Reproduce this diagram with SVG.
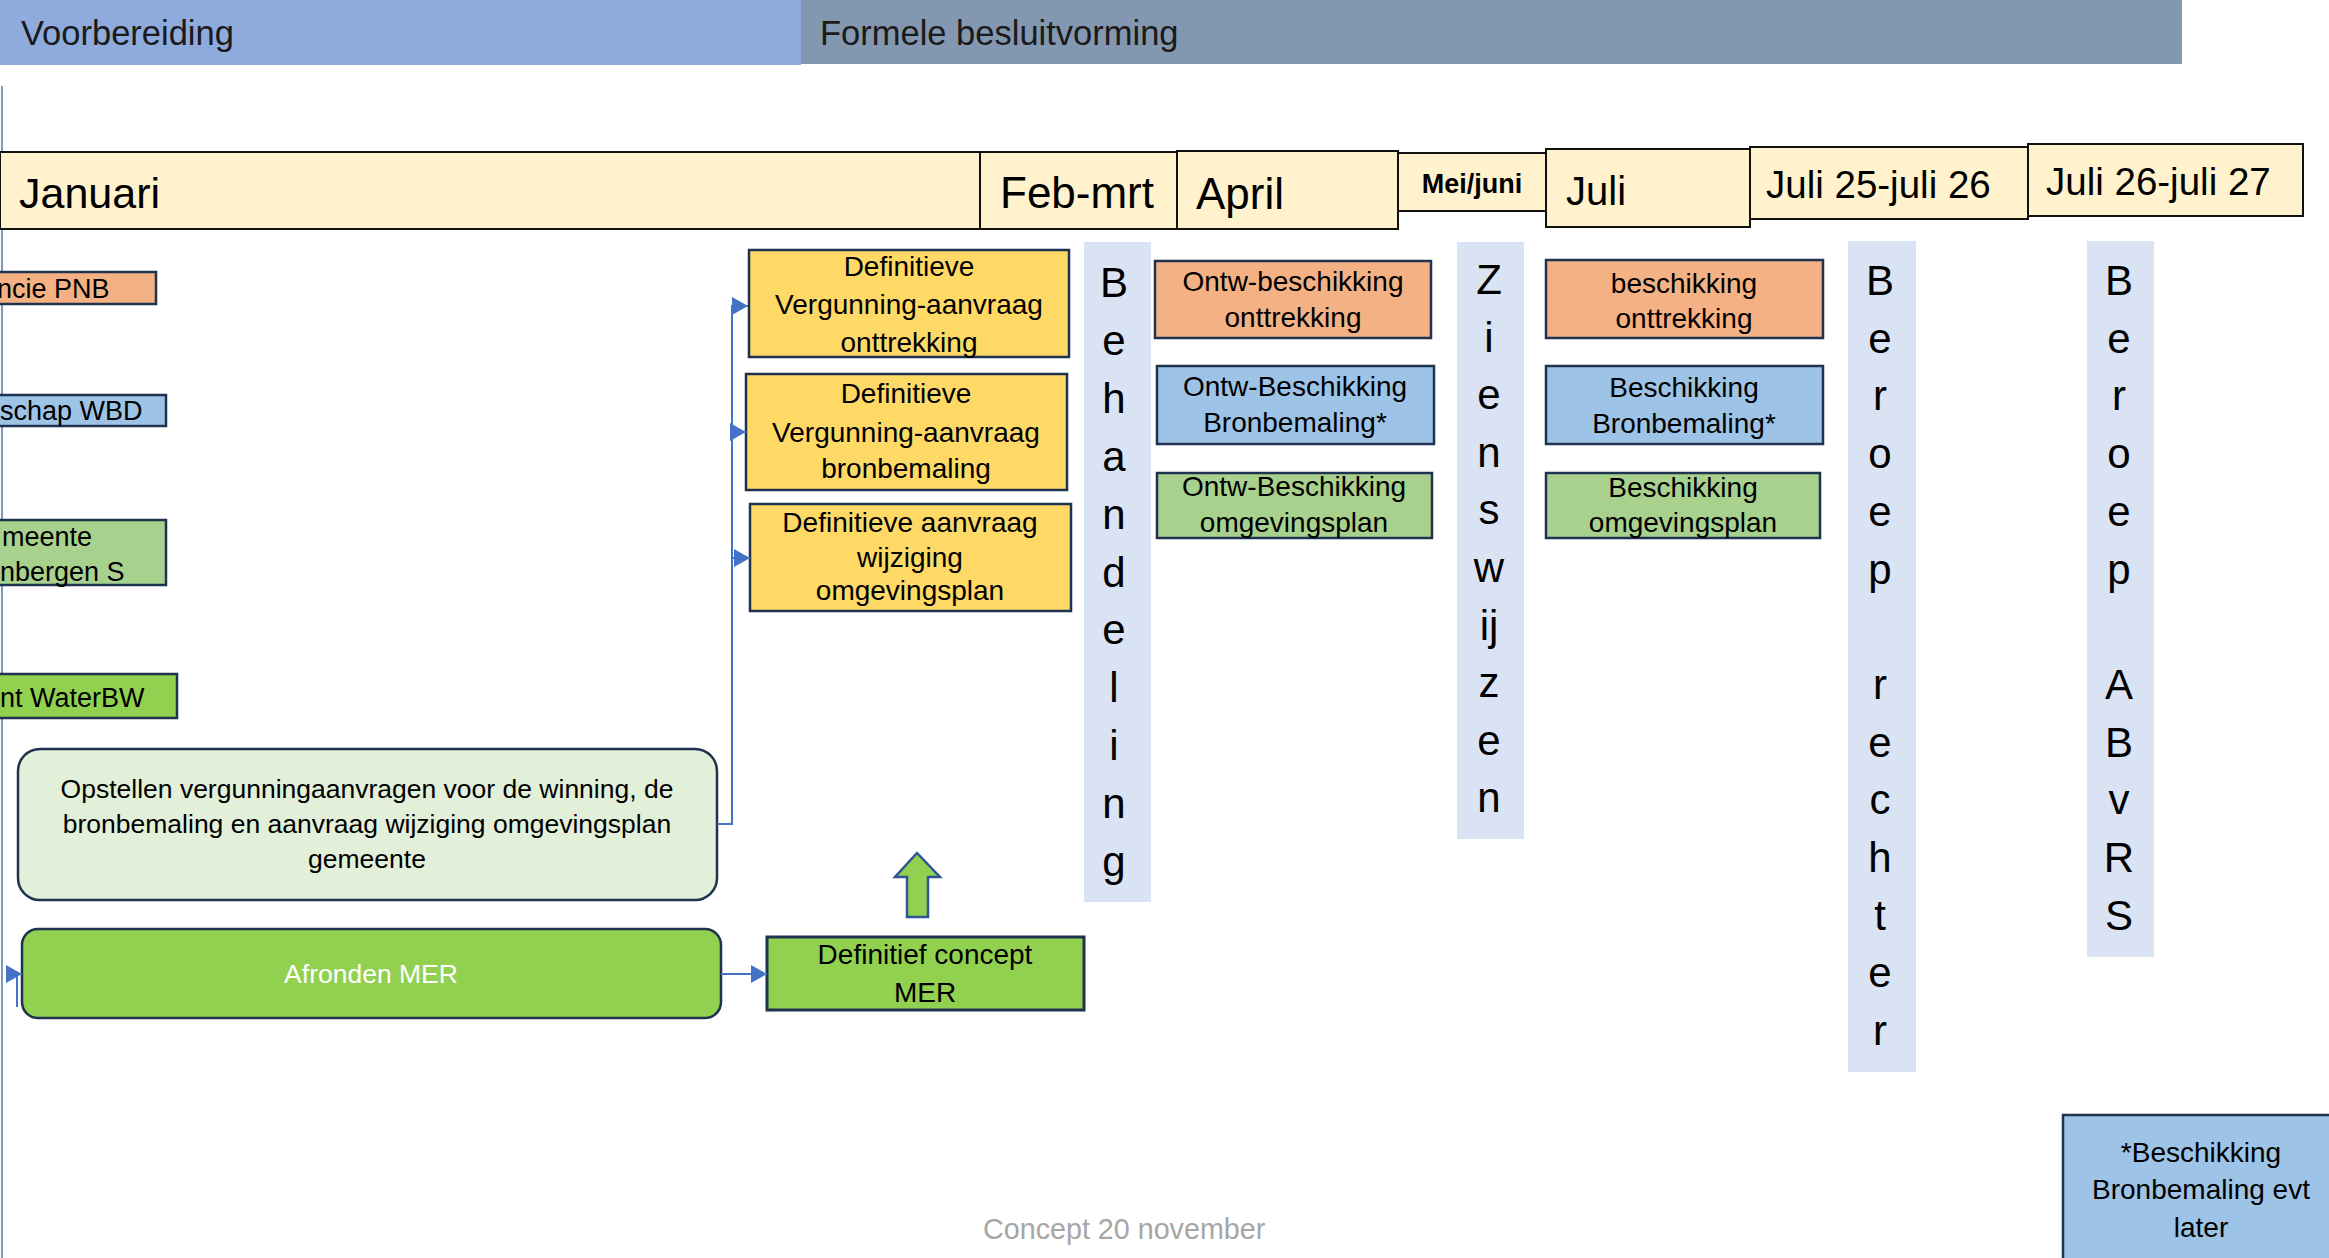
<svg xmlns="http://www.w3.org/2000/svg" width="2329" height="1258" viewBox="0 0 2329 1258">
<defs>
<style>
text{font-family:"Liberation Sans",Arial,sans-serif;fill:#000}
.box{stroke:#1f3350;stroke-width:2.5}
.mon{fill:#fff2cc;stroke:#111;stroke-width:2}
.col{fill:#dae3f3}
.orange{fill:#f4b183}
.blue{fill:#9dc3e6}
.lgreen{fill:#a9d18e}
.green{fill:#92d050}
.yellow{fill:#ffd966}
.t28{font-size:28px}
.t27{font-size:27px}
.t26{font-size:26.5px}
.mid{text-anchor:middle}
.vert{font-size:42px;text-anchor:middle}
.conn{fill:none;stroke:#4472c4;stroke-width:2}
</style>
<marker id="arr" markerUnits="userSpaceOnUse" markerWidth="16" markerHeight="18" refX="16" refY="9" orient="auto">
<path d="M0,0 L16,9 L0,18 z" fill="#4472c4"/>
</marker>
</defs>
<rect width="2329" height="1258" fill="#ffffff"/>

<g id="phase-voorbereiding">
<rect x="0" y="0" width="801" height="65" fill="#8faadc"/>
<text x="21" y="45" style="font-size:34.5px;fill:#1a1a1a">Voorbereiding</text>
</g>
<g id="phase-formeel">
<rect x="801" y="0" width="1381" height="64" fill="#8497b0"/>
<text x="820" y="45" style="font-size:34.5px;fill:#1a1a1a">Formele besluitvorming</text>
</g>

<line x1="2" y1="86" x2="2" y2="1258" stroke="#7f96c0" stroke-width="2"/>

<g id="month-januari"><rect class="mon" x="0" y="152" width="980" height="77"/><text x="19" y="208" style="font-size:43px">Januari</text></g>
<g id="month-febmrt"><rect class="mon" x="980" y="152" width="197" height="77"/><text x="1000" y="208" style="font-size:44px">Feb-mrt</text></g>
<g id="month-april"><rect class="mon" x="1177" y="151" width="221" height="78"/><text x="1196" y="209" style="font-size:44px">April</text></g>
<g id="month-meijuni"><rect class="mon" x="1398" y="153" width="148" height="58"/><text x="1472" y="193" class="mid" style="font-size:27px;font-weight:bold">Mei/juni</text></g>
<g id="month-juli"><rect class="mon" x="1546" y="149" width="204" height="78"/><text x="1566" y="205" style="font-size:40px">Juli</text></g>
<g id="month-juli2526"><rect class="mon" x="1750" y="147" width="278" height="72"/><text x="1766" y="198" style="font-size:38.5px">Juli 25-juli 26</text></g>
<g id="month-juli2627"><rect class="mon" x="2028" y="144" width="275" height="72"/><text x="2046" y="195" style="font-size:38.5px">Juli 26-juli 27</text></g>

<g id="lane-pnb"><rect class="box orange" x="-10" y="272" width="166" height="32"/><text x="-3" y="298" class="t27">ncie PNB</text></g>
<g id="lane-wbd"><rect class="box blue" x="-10" y="395" width="176" height="31"/><text x="0" y="420" class="t27">schap WBD</text></g>
<g id="lane-gemeente"><rect class="box lgreen" x="-10" y="520" width="176" height="65"/><text x="2" y="546" class="t27">meente</text><text x="0" y="581" class="t27">nbergen S</text></g>
<g id="lane-waterbw"><rect class="box green" x="-10" y="674" width="187" height="44"/><text x="0" y="707" class="t27">nt WaterBW</text></g>

<g id="yellow-onttrekking"><rect class="box yellow" x="749" y="250" width="320" height="107"/>
<text class="t28 mid" x="909" y="276">Definitieve</text><text class="t28 mid" x="909" y="314">Vergunning-aanvraag</text><text class="t28 mid" x="909" y="352">onttrekking</text></g>
<g id="yellow-bronbemaling"><rect class="box yellow" x="746" y="374" width="321" height="116"/>
<text class="t28 mid" x="906" y="403">Definitieve</text><text class="t28 mid" x="906" y="442">Vergunning-aanvraag</text><text class="t28 mid" x="906" y="478">bronbemaling</text></g>
<g id="yellow-omgevingsplan"><rect class="box yellow" x="750" y="504" width="321" height="107"/>
<text class="t28 mid" x="910" y="532">Definitieve aanvraag</text><text class="t28 mid" x="910" y="567">wijziging</text><text class="t28 mid" x="910" y="600">omgevingsplan</text></g>

<g id="opstellen"><rect class="box" fill="#e2efd9" x="18" y="749" width="699" height="151" rx="22"/>
<text class="t26 mid" x="367" y="798">Opstellen vergunningaanvragen voor de winning, de</text>
<text class="t26 mid" x="367" y="833">bronbemaling en aanvraag wijziging omgevingsplan</text>
<text class="t26 mid" x="367" y="868">gemeente</text></g>

<g id="afronden-mer"><rect class="box green" x="22" y="929" width="699" height="89" rx="16"/>
<text class="t26 mid" x="371" y="983" style="fill:#ffffff">Afronden MER</text></g>

<g id="definitief-concept-mer"><rect class="box green" x="767" y="937" width="317" height="73" style="stroke-width:3"/>
<text class="t28 mid" x="925" y="964">Definitief concept</text><text class="t28 mid" x="925" y="1002">MER</text></g>

<g id="up-arrow"><polygon points="917,853 940,877 928,877 928,917 907,917 907,877 895,877" fill="#92d050" stroke="#2f5597" stroke-width="2.5"/></g>

<g id="col-behandeling"><rect class="col" x="1084" y="242" width="67" height="660"/>
<text class="vert" x="1114" y="297"><tspan x="1114" dy="0">B</tspan><tspan x="1114" dy="57.9">e</tspan><tspan x="1114" dy="57.9">h</tspan><tspan x="1114" dy="57.9">a</tspan><tspan x="1114" dy="57.9">n</tspan><tspan x="1114" dy="57.9">d</tspan><tspan x="1114" dy="57.9">e</tspan><tspan x="1114" dy="57.9">l</tspan><tspan x="1114" dy="57.9">i</tspan><tspan x="1114" dy="57.9">n</tspan><tspan x="1114" dy="57.9">g</tspan></text></g>

<g id="april-onttrekking"><rect class="box orange" x="1155" y="261" width="276" height="77"/>
<text class="t28 mid" x="1293" y="291">Ontw-beschikking</text><text class="t28 mid" x="1293" y="327">onttrekking</text></g>
<g id="april-bronbemaling"><rect class="box blue" x="1157" y="366" width="277" height="78"/>
<text class="t28 mid" x="1295" y="396">Ontw-Beschikking</text><text class="t28 mid" x="1295" y="432">Bronbemaling*</text></g>
<g id="april-omgevingsplan"><rect class="box lgreen" x="1157" y="473" width="275" height="65"/>
<text class="t28 mid" x="1294" y="496">Ontw-Beschikking</text><text class="t28 mid" x="1294" y="532">omgevingsplan</text></g>

<g id="col-zienswijzen"><rect class="col" x="1457" y="242" width="67" height="597"/>
<text class="vert" x="1489" y="294"><tspan x="1489" dy="0">Z</tspan><tspan x="1489" dy="57.6">i</tspan><tspan x="1489" dy="57.6">e</tspan><tspan x="1489" dy="57.6">n</tspan><tspan x="1489" dy="57.6">s</tspan><tspan x="1489" dy="57.6">w</tspan><tspan x="1489" dy="57.6">ij</tspan><tspan x="1489" dy="57.6">z</tspan><tspan x="1489" dy="57.6">e</tspan><tspan x="1489" dy="57.6">n</tspan></text></g>

<g id="juli-onttrekking"><rect class="box orange" x="1546" y="260" width="277" height="78"/>
<text class="t28 mid" x="1684" y="293">beschikking</text><text class="t28 mid" x="1684" y="328">onttrekking</text></g>
<g id="juli-bronbemaling"><rect class="box blue" x="1546" y="366" width="277" height="78"/>
<text class="t28 mid" x="1684" y="397">Beschikking</text><text class="t28 mid" x="1684" y="433">Bronbemaling*</text></g>
<g id="juli-omgevingsplan"><rect class="box lgreen" x="1546" y="473" width="274" height="65"/>
<text class="t28 mid" x="1683" y="497">Beschikking</text><text class="t28 mid" x="1683" y="532">omgevingsplan</text></g>

<g id="col-beroep-rechter"><rect class="col" x="1848" y="241" width="68" height="831"/>
<text class="vert" x="1880" y="295"><tspan x="1880" dy="0">B</tspan><tspan x="1880" dy="57.7">e</tspan><tspan x="1880" dy="57.7">r</tspan><tspan x="1880" dy="57.7">o</tspan><tspan x="1880" dy="57.7">e</tspan><tspan x="1880" dy="57.7">p</tspan><tspan x="1880" dy="115.4">r</tspan><tspan x="1880" dy="57.7">e</tspan><tspan x="1880" dy="57.7">c</tspan><tspan x="1880" dy="57.7">h</tspan><tspan x="1880" dy="57.7">t</tspan><tspan x="1880" dy="57.7">e</tspan><tspan x="1880" dy="57.7">r</tspan></text></g>

<g id="col-beroep-abvrs"><rect class="col" x="2087" y="241" width="67" height="716"/>
<text class="vert" x="2119" y="295"><tspan x="2119" dy="0">B</tspan><tspan x="2119" dy="57.7">e</tspan><tspan x="2119" dy="57.7">r</tspan><tspan x="2119" dy="57.7">o</tspan><tspan x="2119" dy="57.7">e</tspan><tspan x="2119" dy="57.7">p</tspan><tspan x="2119" dy="115.4">A</tspan><tspan x="2119" dy="57.7">B</tspan><tspan x="2119" dy="57.7">v</tspan><tspan x="2119" dy="57.7">R</tspan><tspan x="2119" dy="57.7">S</tspan></text></g>

<g id="footnote"><rect class="box blue" x="2063" y="1115" width="280" height="160"/>
<text class="t28 mid" x="2201" y="1162">*Beschikking</text><text class="t28 mid" x="2201" y="1199">Bronbemaling evt</text><text class="t28 mid" x="2201" y="1237">later</text></g>

<g id="concept-label"><text x="983" y="1239" style="font-size:28.7px;fill:#a6a6a6">Concept 20 november</text></g>

<g id="connectors">
<path class="conn" d="M717 824 H732 V306 H748" marker-end="url(#arr)"/>
<path class="conn" d="M732 432 H746" marker-end="url(#arr)"/>
<path class="conn" d="M732 558 H750" marker-end="url(#arr)"/>
<path class="conn" d="M721 974 H767" marker-end="url(#arr)"/>
<path class="conn" d="M17 1007 V974 H22" marker-end="url(#arr)"/>
</g>
</svg>
